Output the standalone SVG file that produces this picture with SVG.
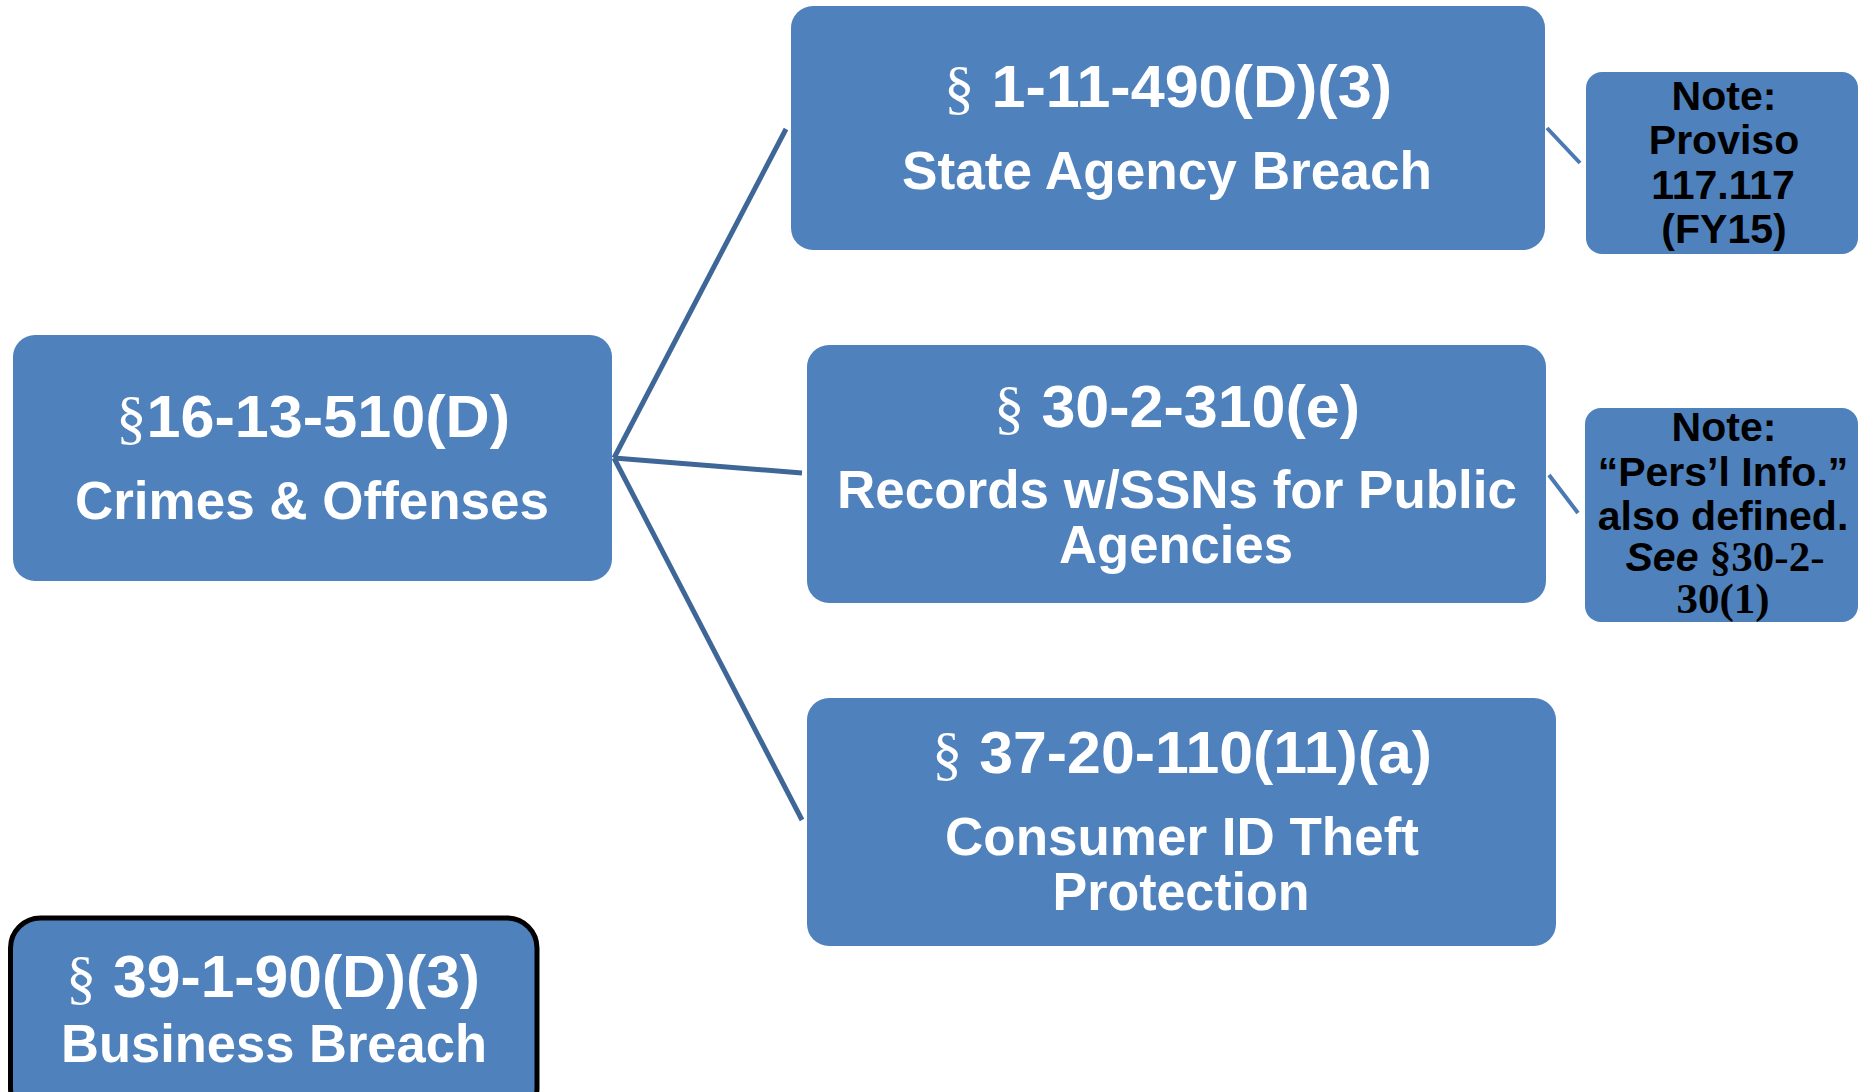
<svg xmlns="http://www.w3.org/2000/svg" width="1860" height="1092" viewBox="0 0 1860 1092">
<style>
.box{fill:#4F81BD;}
.t{font-family:"Liberation Sans",Arial,sans-serif;font-weight:bold;fill:#FFFFFF;text-anchor:middle;}
.h{font-size:60px;}
.s{font-size:54px;}
.sec{font-family:"Liberation Serif","Times New Roman",serif;font-weight:normal;}
.n{font-family:"Liberation Sans",Arial,sans-serif;font-weight:bold;fill:#000000;text-anchor:middle;font-size:41px;}
.tb{font-family:"Liberation Serif","Times New Roman",serif;font-weight:bold;font-size:43px;}
.main{stroke:#3E6797;stroke-width:5;fill:none;}
.note{stroke:#4A79B3;stroke-width:4;fill:none;}
</style>
<rect width="1860" height="1092" fill="#FFFFFF"/>
<g id="connectors">
<line class="main" x1="614" y1="458" x2="786" y2="129"/>
<line class="main" x1="614" y1="458" x2="802" y2="473"/>
<line class="main" x1="614" y1="458" x2="802" y2="820"/>
<line class="note" x1="1547" y1="128" x2="1580" y2="163"/>
<line class="note" x1="1549" y1="475" x2="1578" y2="513"/>
</g>
<g id="crimes">
<rect class="box" x="13" y="335" width="599" height="246" rx="22"/>
<text class="t h" x="313" y="437" textLength="394" lengthAdjust="spacingAndGlyphs"><tspan class="sec">§</tspan>16-13-510(D)</text>
<text class="t s" x="312" y="519" textLength="474" lengthAdjust="spacingAndGlyphs">Crimes &amp; Offenses</text>
</g>
<g id="state-agency">
<rect class="box" x="791" y="6" width="754" height="244" rx="22"/>
<text class="t h" x="1168" y="107" textLength="448" lengthAdjust="spacingAndGlyphs"><tspan class="sec">§</tspan> 1-11-490(D)(3)</text>
<text class="t s" x="1167" y="189" textLength="530" lengthAdjust="spacingAndGlyphs">State Agency Breach</text>
</g>
<g id="records">
<rect class="box" x="807" y="345" width="739" height="258" rx="22"/>
<text class="t h" x="1177" y="427" textLength="366" lengthAdjust="spacingAndGlyphs"><tspan class="sec">§</tspan> 30-2-310(e)</text>
<text class="t s" x="1177" y="508" textLength="680" lengthAdjust="spacingAndGlyphs">Records w/SSNs for Public</text>
<text class="t s" x="1176" y="563" textLength="234" lengthAdjust="spacingAndGlyphs">Agencies</text>
</g>
<g id="consumer">
<rect class="box" x="807" y="698" width="749" height="248" rx="22"/>
<text class="t h" x="1182" y="773" textLength="500" lengthAdjust="spacingAndGlyphs"><tspan class="sec">§</tspan> 37-20-110(11)(a)</text>
<text class="t s" x="1182" y="855" textLength="474" lengthAdjust="spacingAndGlyphs">Consumer ID Theft</text>
<text class="t s" x="1181" y="910" textLength="257" lengthAdjust="spacingAndGlyphs">Protection</text>
</g>
<g id="business">
<rect class="box" x="10.5" y="918" width="526.5" height="200" rx="30" stroke="#000000" stroke-width="5"/>
<text class="t h" x="273" y="997" textLength="414" lengthAdjust="spacingAndGlyphs"><tspan class="sec">§</tspan> 39-1-90(D)(3)</text>
<text class="t s" x="274" y="1062" textLength="426" lengthAdjust="spacingAndGlyphs">Business Breach</text>
</g>
<g id="note-proviso">
<rect class="box" x="1586" y="72" width="272" height="182" rx="16"/>
<text class="n" x="1724" y="110">Note:</text>
<text class="n" x="1724" y="154">Proviso</text>
<text class="n" x="1723" y="199">117.117</text>
<text class="n" x="1724" y="243">(FY15)</text>
</g>
<g id="note-persinfo">
<rect class="box" x="1585" y="408" width="273" height="214" rx="16"/>
<text class="n" x="1724" y="441">Note:</text>
<text class="n" x="1723" y="486">“Pers’l Info.”</text>
<text class="n" x="1723" y="530">also defined.</text>
<text class="n" x="1725" y="571"><tspan font-style="italic">See</tspan> <tspan class="tb">§30-2-</tspan></text>
<text class="n tb" x="1723" y="613">30(1)</text>
</g>
</svg>
